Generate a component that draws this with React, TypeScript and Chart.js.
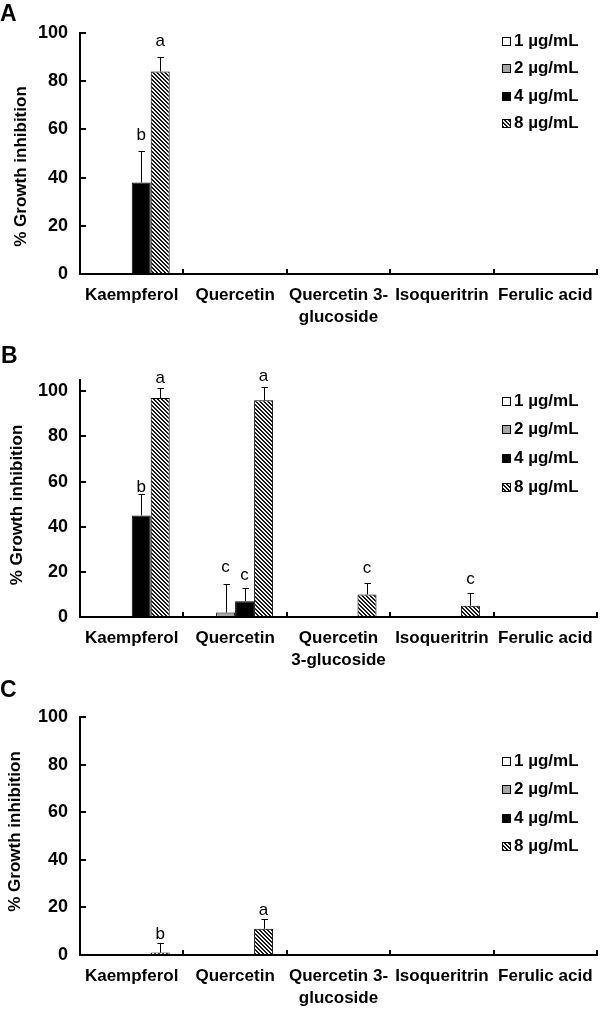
import React, { useEffect, useRef } from 'react';
import { Chart, registerables } from 'chart.js';

Chart.register(...registerables);

const FONT = "'Liberation Sans', Arial, sans-serif";

// ---------- data ----------
const seriesNames = ['1 µg/mL', '2 µg/mL', '4 µg/mL', '8 µg/mL'];
const labelsAC: (string | string[])[] = ['Kaempferol', 'Quercetin', ['Quercetin 3-', 'glucoside'], 'Isoqueritrin', 'Ferulic acid'];
const labelsB: (string | string[])[] = ['Kaempferol', 'Quercetin', ['Quercetin', '3-glucoside'], 'Isoqueritrin', 'Ferulic acid'];
const yTickValues = [0, 20, 40, 60, 80, 100];

const none: (number | null)[] = [null, null, null, null, null];
const noErr = [0, 0, 0, 0, 0];
const noSig = ['', '', '', '', ''];

// Panel A
const aVal4: (number | null)[] = [38, null, null, null, null];
const aVal8: (number | null)[] = [84, null, null, null, null];
const aErr4 = [13, 0, 0, 0, 0];
const aErr8 = [6, 0, 0, 0, 0];
const aSig4 = ['b', '', '', '', ''];
const aSig8 = ['a', '', '', '', ''];

// Panel B
const bVal2: (number | null)[] = [null, 2, null, null, null];
const bVal4: (number | null)[] = [45, 7, null, null, null];
const bVal8: (number | null)[] = [97, 96, 10, 5, null];
const bErr2 = [0, 12.5, 0, 0, 0];
const bErr4 = [9.5, 6, 0, 0, 0];
const bErr8 = [4.5, 6, 5, 5.5, 0];
const bSig2 = ['', 'c', '', '', ''];
const bSig4 = ['b', 'c', '', '', ''];
const bSig8 = ['a', 'a', 'c', 'c', ''];

// Panel C
const cVal8: (number | null)[] = [1, 11, null, null, null];
const cErr8 = [4.2, 4.3, 0, 0, 0];
const cSig8 = ['b', 'a', '', '', ''];

// ---------- layout ----------
type Panel = {
  letter: string;
  top: number;
  height: number;
  areaTop: number;
  areaBottom: number;
  yMax: number;
  titleX: number;
  titleY: number;
  letterX: number;
  letterY: number;
  legendRows: number[];
  labels: (string | string[])[];
  values: (number | null)[][];
  errors: number[][];
  sig: string[][];
  gaps: number[][];
};

const panels: Panel[] = [
  {
    letter: 'A', top: 0, height: 325, areaTop: 33, areaBottom: 274, yMax: 100,
    titleX: 21.5, titleY: 166.5, letterX: 0, letterY: 21,
    legendRows: [41, 68.5, 96, 123.5],
    labels: labelsAC,
    values: [none, none, aVal4, aVal8],
    errors: [noErr, noErr, aErr4, aErr8],
    sig: [noSig, noSig, aSig4, aSig8],
    gaps: [noErr, noErr, [11.5, 0, 0, 0, 0], [11.5, 0, 0, 0, 0]],
  },
  {
    letter: 'B', top: 330, height: 345, areaTop: 50, areaBottom: 287, yMax: 105,
    titleX: 17, titleY: 175, letterX: 1, letterY: 33,
    legendRows: [71, 99.5, 128, 157],
    labels: labelsB,
    values: [none, bVal2, bVal4, bVal8],
    errors: [noErr, bErr2, bErr4, bErr8],
    sig: [noSig, bSig2, bSig4, bSig8],
    gaps: [noErr, [0, 12.5, 0, 0, 0], [1.5, 8, 0, 0, 0], [4.5, 6, 10, 9.5, 0]],
  },
  {
    letter: 'C', top: 675, height: 334, areaTop: 42, areaBottom: 280, yMax: 100,
    titleX: 15, titleY: 156.5, letterX: 0, letterY: 22,
    legendRows: [86, 114.5, 143, 171.5],
    labels: labelsAC,
    values: [none, none, none, cVal8],
    errors: [noErr, noErr, noErr, cErr8],
    sig: [noSig, noSig, noSig, cSig8],
    gaps: [noErr, noErr, noErr, [4, 4, 0, 0, 0]],
  },
];

function makeHatch(): CanvasPattern | string {
  const c = document.createElement('canvas');
  c.width = 4;
  c.height = 4;
  const g = c.getContext('2d');
  if (!g) return '#777';
  const img = g.createImageData(4, 4);
  for (let y = 0; y < 4; y++) {
    for (let x = 0; x < 4; x++) {
      const d = (((x - y) % 4) + 4) % 4;
      const v = d === 0 || d === 1 ? 25 : 240;
      const i = (y * 4 + x) * 4;
      img.data[i] = v;
      img.data[i + 1] = v;
      img.data[i + 2] = v;
      img.data[i + 3] = 255;
    }
  }
  g.putImageData(img, 0, 0);
  return g.createPattern(c, 'repeat') || '#777';
}

function PanelChart({ p }: { p: Panel }) {
  const ref = useRef<HTMLCanvasElement>(null);

  useEffect(() => {
    if (!ref.current) return;
    const hatch = makeHatch();
    const fills: any[] = ['#ffffff', '#a6a6a6', '#000000', hatch];

    const datasets = seriesNames.map((name, i) => ({
      label: name,
      data: p.values[i],
      backgroundColor: fills[i],
      borderColor: '#000000',
      borderWidth: 1,
      categoryPercentage: 0.735,
      barPercentage: 1,
    }));

    const overlay = {
      id: 'overlay',
      afterDatasetsDraw(chart: any) {
        const ctx = chart.ctx as CanvasRenderingContext2D;
        const ys = chart.scales.y;
        ctx.save();
        p.values.forEach((vals, di) => {
          const meta = chart.getDatasetMeta(di);
          vals.forEach((v, k) => {
            if (v === null || v === undefined) return;
            const bar = meta.data[k];
            if (!bar) return;
            const x = Math.round(bar.x) + 0.5;
            const e = p.errors[di][k] || 0;
            const yBar = ys.getPixelForValue(v);
            let yTop = yBar;
            if (e > 0) {
              yTop = ys.getPixelForValue(v + e);
              ctx.strokeStyle = '#000';
              ctx.lineWidth = 1;
              ctx.beginPath();
              ctx.moveTo(x, yBar);
              ctx.lineTo(x, Math.round(yTop) + 0.5);
              ctx.moveTo(x - 3, Math.round(yTop) + 0.5);
              ctx.lineTo(x + 3.5, Math.round(yTop) + 0.5);
              ctx.stroke();
            }
            const s = p.sig[di][k];
            if (s) {
              ctx.fillStyle = '#000';
              ctx.font = `17px ${FONT}`;
              ctx.textAlign = 'center';
              ctx.textBaseline = 'alphabetic';
              ctx.fillText(s, bar.x, yTop - (p.gaps[di][k] || 0));
            }
          });
        });
        ctx.restore();
      },
      afterDraw(chart: any) {
        const ctx = chart.ctx as CanvasRenderingContext2D;
        ctx.save();
        // panel letter
        ctx.fillStyle = '#000';
        ctx.font = `bold 23px ${FONT}`;
        ctx.textAlign = 'left';
        ctx.textBaseline = 'alphabetic';
        ctx.fillText(p.letter, p.letterX, p.letterY);
        // y axis title
        ctx.save();
        ctx.translate(p.titleX, p.titleY);
        ctx.rotate(-Math.PI / 2);
        ctx.font = `bold 17px ${FONT}`;
        ctx.textAlign = 'center';
        ctx.textBaseline = 'middle';
        ctx.fillText('% Growth inhibition', 0, 0);
        ctx.restore();
        // legend
        seriesNames.forEach((name, i) => {
          const cy = p.legendRows[i];
          const sx = 502.5;
          const sy = Math.round(cy - 4.5) + 0.5;
          ctx.fillStyle = fills[i];
          ctx.fillRect(sx, sy, 8, 8);
          ctx.strokeStyle = '#000';
          ctx.lineWidth = 1;
          ctx.strokeRect(sx, sy, 8, 8);
          ctx.fillStyle = '#000';
          ctx.font = `bold 17px ${FONT}`;
          ctx.textAlign = 'left';
          ctx.textBaseline = 'middle';
          ctx.fillText(name, 514, cy);
        });
        ctx.restore();
      },
    };

    const chart = new Chart(ref.current, {
      type: 'bar',
      data: { labels: p.labels as any, datasets: datasets as any },
      options: {
        responsive: false,
        animation: false,
        devicePixelRatio: 1,
        layout: { padding: { top: p.areaTop, right: 3, left: 0, bottom: 0 } },
        plugins: {
          legend: { display: false },
          tooltip: { enabled: false },
          title: { display: false },
        },
        scales: {
          x: {
            type: 'category',
            offset: true,
            grid: {
              display: true,
              offset: true,
              drawOnChartArea: false,
              drawTicks: true,
              tickLength: -5,
              lineWidth: 2,
              color: '#000',
            },
            border: { display: true, color: '#000', width: 2 },
            ticks: {
              color: '#000',
              font: { family: FONT, size: 17, weight: 'bold', lineHeight: 1.25 },
              padding: 16,
              maxRotation: 0,
              minRotation: 0,
              autoSkip: false,
            },
            afterFit: (s: any) => {
              s.height = p.height - p.areaBottom;
              s.paddingLeft = 0;
              s.paddingRight = 0;
            },
          },
          y: {
            type: 'linear',
            min: 0,
            max: p.yMax,
            afterBuildTicks: (s: any) => {
              s.ticks = yTickValues.map((v) => ({ value: v }));
            },
            grid: {
              drawOnChartArea: false,
              drawTicks: true,
              tickLength: -6,
              lineWidth: 2,
              color: '#000',
            },
            border: { display: true, color: '#000', width: 2 },
            ticks: {
              color: '#000',
              font: { family: FONT, size: 18, weight: 'bold' },
              padding: 18,
            },
            afterFit: (s: any) => {
              s.width = 80;
              s.paddingTop = 0;
              s.paddingBottom = 0;
            },
          },
        },
      } as any,
      plugins: [overlay],
    });
    return () => chart.destroy();
  }, [p]);

  return (
    <canvas
      ref={ref}
      width={600}
      height={p.height}
      style={{ position: 'absolute', left: 0, top: p.top, display: 'block', width: 600, height: p.height }}
    />
  );
}

export default function App() {
  return (
    <div style={{ position: 'absolute', left: 0, top: 0, width: 600, height: 1009, background: '#fff', overflow: 'hidden' }}>
      {panels.map((p) => (
        <PanelChart key={p.letter} p={p} />
      ))}
    </div>
  );
}
